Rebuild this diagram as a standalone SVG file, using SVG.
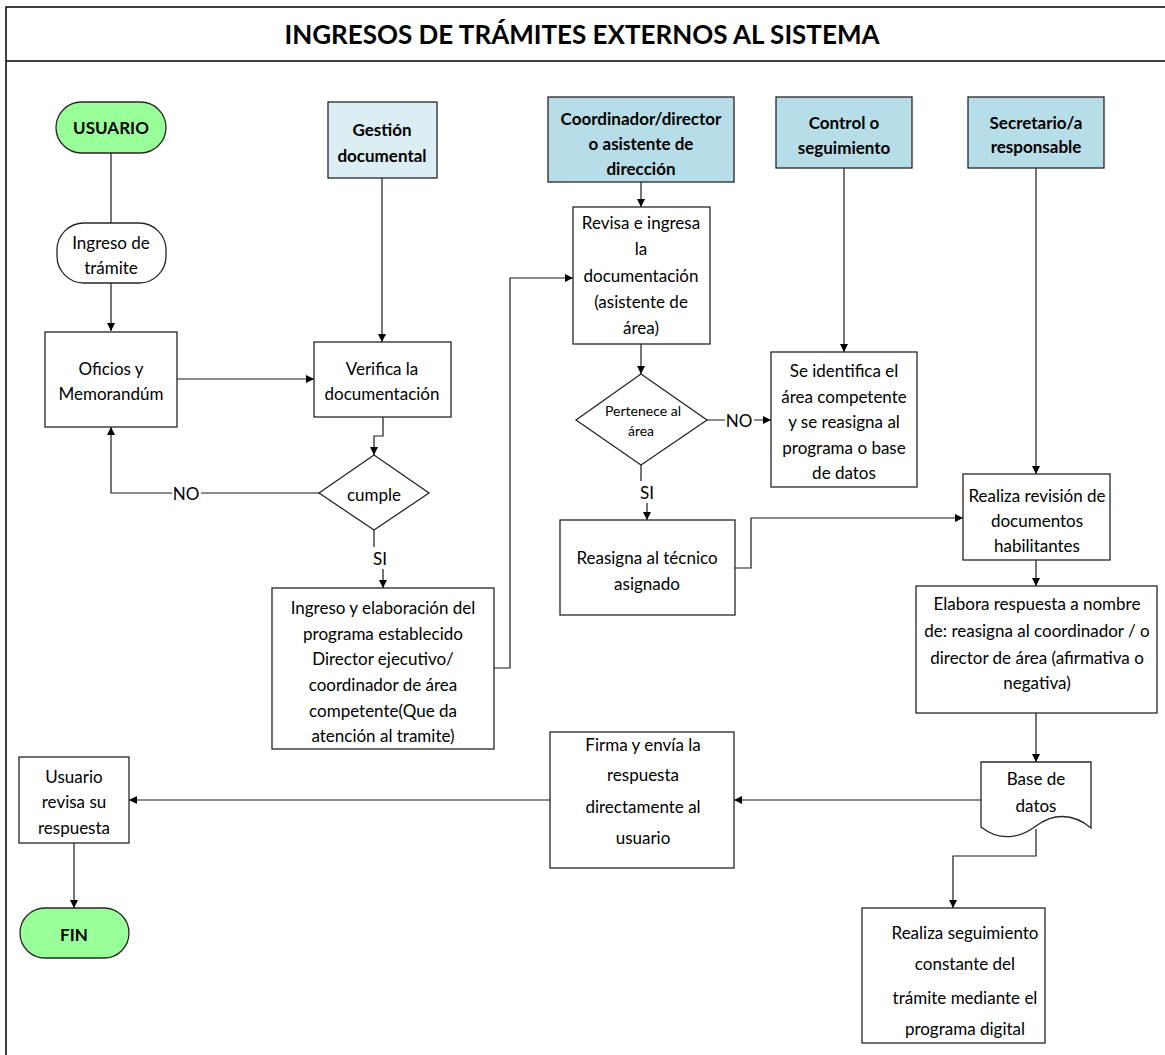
<svg xmlns="http://www.w3.org/2000/svg" width="1165" height="1055" viewBox="0 0 1165 1055">
  <style>
    .box { fill: #ffffff; stroke: #262626; stroke-width: 1.3; }
    .term { fill: #99ff99; }
    .lane1 { fill: #daeef3; }
    .lane { fill: #b7dee8; }
    .t { font-family: Lato, "Liberation Sans", sans-serif; font-size: 17px; fill: #000; text-anchor: middle; dominant-baseline: central; }
    .b { font-weight: bold; }
    .sm { font-size: 14px; }
    .conn { fill: none; stroke: #1a1a1a; stroke-width: 1.2; }
    .lbl { fill: #ffffff; stroke: none; }
  </style>
  <defs>
    <marker id="arr" viewBox="0 0 10 10" refX="10" refY="5" markerWidth="8" markerHeight="8" markerUnits="userSpaceOnUse" orient="auto">
      <path d="M0,0 L10,5 L0,10 Z" fill="#000"/>
    </marker>
  </defs>

  <rect width="1165" height="1055" fill="#ffffff"/>

  <!-- page frame and title band -->
  <g id="frame">
    <rect x="6" y="7" width="1175" height="1065" fill="none" stroke="#000" stroke-width="1.5"/>
    <line x1="6" y1="61" x2="1165" y2="61" stroke="#000" stroke-width="1.5"/>
    <text class="t b" x="582" y="34" style="font-size:26px">INGRESOS DE TRÁMITES EXTERNOS AL SISTEMA</text>
  </g>

  <!-- connectors -->
  <g id="connectors">
    <path class="conn" d="M111,153 V223"/>
    <path class="conn" d="M111,283 V331" marker-end="url(#arr)"/>
    <path class="conn" d="M177,379 H314" marker-end="url(#arr)"/>
    <path class="conn" d="M382,178 V342" marker-end="url(#arr)"/>
    <path class="conn" d="M383,417 V436 H374 V455" marker-end="url(#arr)"/>
    <path class="conn" d="M319,493 H111 V427" marker-end="url(#arr)"/>
    <path class="conn" d="M374,530 V556 H383 V588" marker-end="url(#arr)"/>
    <path class="conn" d="M494,668 H510 V278 H573" marker-end="url(#arr)"/>
    <path class="conn" d="M641,182 V207" marker-end="url(#arr)"/>
    <path class="conn" d="M641,344 V374" marker-end="url(#arr)"/>
    <path class="conn" d="M707,420 H771" marker-end="url(#arr)"/>
    <path class="conn" d="M641,465 V490 H647 V520" marker-end="url(#arr)"/>
    <path class="conn" d="M844,168 V352" marker-end="url(#arr)"/>
    <path class="conn" d="M735,568 H751 V518 H963" marker-end="url(#arr)"/>
    <path class="conn" d="M1036,168 V474" marker-end="url(#arr)"/>
    <path class="conn" d="M1036,560 V586" marker-end="url(#arr)"/>
    <path class="conn" d="M1036,713 V762" marker-end="url(#arr)"/>
    <path class="conn" d="M981,800 H734" marker-end="url(#arr)"/>
    <path class="conn" d="M550,800 H129" marker-end="url(#arr)"/>
    <path class="conn" d="M74,843 V908" marker-end="url(#arr)"/>
    <path class="conn" d="M1036,829 V856 H953 V908" marker-end="url(#arr)"/>

    <!-- branch labels -->
    <rect class="lbl" x="172" y="483" width="29" height="20"/>
    <text class="t" x="186" y="493">NO</text>
    <rect class="lbl" x="371" y="547" width="18" height="22"/>
    <text class="t" x="380" y="558">SI</text>
    <rect class="lbl" x="725" y="410" width="29" height="20"/>
    <text class="t" x="739" y="420">NO</text>
    <rect class="lbl" x="638" y="481" width="18" height="22"/>
    <text class="t" x="647" y="492">SI</text>
  </g>

  <!-- lane headers -->
  <g id="usuario">
    <rect class="box term" x="56" y="102" width="110" height="51" rx="25.5"/>
    <text class="t b" x="111" y="127">USUARIO</text>
  </g>
  <g id="gestion-documental">
    <rect class="box lane1" x="328" y="102" width="109" height="76"/>
    <text class="t b" x="382" y="129">Gestión</text>
    <text class="t b" x="382" y="155">documental</text>
  </g>
  <g id="coordinador">
    <rect class="box lane" x="548" y="97" width="186" height="85"/>
    <text class="t b" x="641" y="118">Coordinador/director</text>
    <text class="t b" x="641" y="143">o asistente de</text>
    <text class="t b" x="641" y="168">dirección</text>
  </g>
  <g id="control">
    <rect class="box lane" x="776" y="97" width="136" height="71"/>
    <text class="t b" x="844" y="122">Control o</text>
    <text class="t b" x="844" y="147">seguimiento</text>
  </g>
  <g id="secretario">
    <rect class="box lane" x="968" y="97" width="136" height="71"/>
    <text class="t b" x="1036" y="122">Secretario/a</text>
    <text class="t b" x="1036" y="146">responsable</text>
  </g>

  <!-- process steps -->
  <g id="ingreso-tramite">
    <rect class="box" x="57" y="223" width="109" height="60" rx="27"/>
    <text class="t" x="111" y="242">Ingreso de</text>
    <text class="t" x="111" y="267">trámite</text>
  </g>
  <g id="oficios">
    <rect class="box" x="45" y="332" width="132" height="95"/>
    <text class="t" x="111" y="368">Oficios y</text>
    <text class="t" x="111" y="393">Memorandúm</text>
  </g>
  <g id="verifica">
    <rect class="box" x="314" y="342" width="137" height="75"/>
    <text class="t" x="382" y="368">Verifica la</text>
    <text class="t" x="382" y="393">documentación</text>
  </g>
  <g id="cumple">
    <path class="box" d="M374,455 L429,493 L374,530 L319,493 Z"/>
    <text class="t" x="374" y="494">cumple</text>
  </g>
  <g id="ingreso-elaboracion">
    <rect class="box" x="272" y="588" width="222" height="161"/>
    <text class="t" x="383" y="607">Ingreso y elaboración del</text>
    <text class="t" x="383" y="633">programa establecido</text>
    <text class="t" x="383" y="658">Director ejecutivo/</text>
    <text class="t" x="383" y="684">coordinador de área</text>
    <text class="t" x="383" y="710">competente(Que da</text>
    <text class="t" x="383" y="735">atención al tramite)</text>
  </g>
  <g id="revisa">
    <rect class="box" x="573" y="207" width="137" height="137"/>
    <text class="t" x="641" y="222">Revisa e ingresa</text>
    <text class="t" x="641" y="248">la</text>
    <text class="t" x="641" y="275">documentación</text>
    <text class="t" x="641" y="301">(asistente de</text>
    <text class="t" x="641" y="327">área)</text>
  </g>
  <g id="pertenece">
    <path class="box" d="M641,374 L707,420 L641,465 L576,420 Z"/>
    <text class="t sm" x="643" y="410">Pertenece al</text>
    <text class="t sm" x="641" y="430">área</text>
  </g>
  <g id="se-identifica">
    <rect class="box" x="771" y="352" width="146" height="135"/>
    <text class="t" x="844" y="370">Se identifica el</text>
    <text class="t" x="844" y="396">área competente</text>
    <text class="t" x="844" y="421">y se reasigna al</text>
    <text class="t" x="844" y="447">programa o base</text>
    <text class="t" x="844" y="472">de datos</text>
  </g>
  <g id="reasigna">
    <rect class="box" x="560" y="520" width="175" height="95"/>
    <text class="t" x="647" y="557">Reasigna al técnico</text>
    <text class="t" x="647" y="583">asignado</text>
  </g>
  <g id="realiza-revision">
    <rect class="box" x="963" y="474" width="147" height="86"/>
    <text class="t" x="1037" y="495">Realiza revisión de</text>
    <text class="t" x="1037" y="520">documentos</text>
    <text class="t" x="1037" y="545">habilitantes</text>
  </g>
  <g id="elabora">
    <rect class="box" x="916" y="586" width="241" height="127"/>
    <text class="t" x="1037" y="603">Elabora respuesta a nombre</text>
    <text class="t" x="1037" y="630">de: reasigna al coordinador / o</text>
    <text class="t" x="1037" y="657">director de área (afirmativa o</text>
    <text class="t" x="1037" y="682">negativa)</text>
  </g>
  <g id="base-datos">
    <path class="box" d="M981,762 H1091 V828 C1072,812 1052,814 1036,826 C1020,838 1000,842 981,827 Z"/>
    <text class="t" x="1036" y="778">Base de</text>
    <text class="t" x="1036" y="805">datos</text>
  </g>
  <g id="firma">
    <rect class="box" x="550" y="732" width="184" height="136"/>
    <text class="t" x="643" y="744">Firma y envía la</text>
    <text class="t" x="643" y="774">respuesta</text>
    <text class="t" x="643" y="806">directamente al</text>
    <text class="t" x="643" y="837">usuario</text>
  </g>
  <g id="usuario-revisa">
    <rect class="box" x="19" y="757" width="110" height="86"/>
    <text class="t" x="74" y="776">Usuario</text>
    <text class="t" x="74" y="801">revisa su</text>
    <text class="t" x="74" y="827">respuesta</text>
  </g>
  <g id="fin">
    <rect class="box term" x="20" y="908" width="109" height="50" rx="25"/>
    <text class="t b" x="74" y="934">FIN</text>
  </g>
  <g id="seguimiento">
    <rect class="box" x="862" y="908" width="183" height="135"/>
    <text class="t" x="965" y="932">Realiza seguimiento</text>
    <text class="t" x="965" y="963">constante del</text>
    <text class="t" x="965" y="997">trámite mediante el</text>
    <text class="t" x="965" y="1028">programa digital</text>
  </g>
</svg>
